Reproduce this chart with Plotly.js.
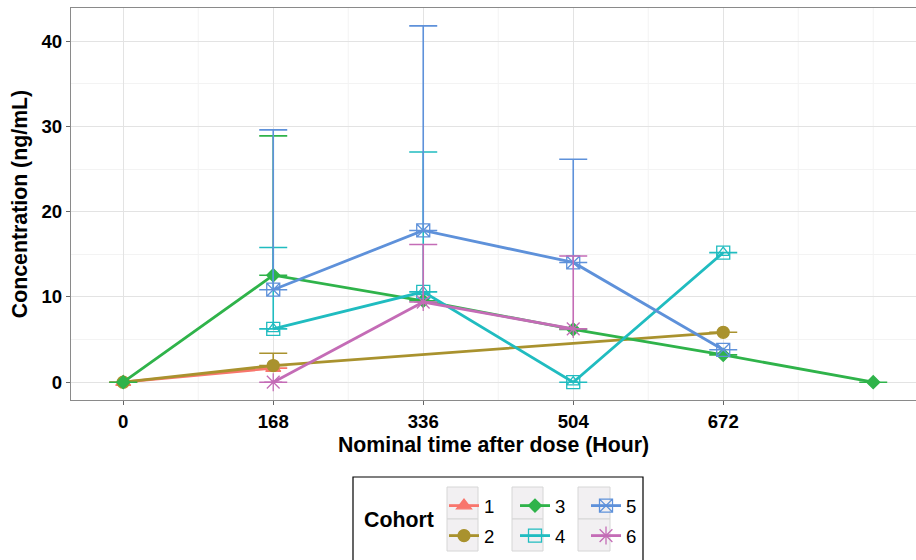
<!DOCTYPE html>
<html><head><meta charset="utf-8">
<script src="https://cdn.plot.ly/plotly-3.0.1.min.js"></script>
<style>html,body{margin:0;padding:0;overflow:hidden;background:#fff}#c{width:916px;height:560px}</style>
</head><body><div id="c"></div>
<script>
// ---- data ----
var cohorts = ["1","2","3","4","5","6"];
var x1 = [0,168],                 y1 = [0,1.65],                     sd1 = [0,0];
var x2 = [0,168,672],             y2 = [0,1.95,5.85],                sd2 = [0,1.45,0];
var x3 = [0,168,336,504,672,840], y3 = [0,12.55,9.55,6.2,3.2,0],     sd3 = [0,16.35,NaN,NaN,NaN,0];
var x4 = [168,336,504,672],       y4 = [6.25,10.6,0,15.2],           sd4 = [9.55,16.4,0,0];
var x5 = [168,336,504,672],       y5 = [10.85,17.8,14.05,3.8],       sd5 = [18.75,24.0,12.1,0];
var x6 = [168,336,504],           y6 = [0,9.4,6.25],                 sd6 = [0,6.75,8.55];
var xTicks = [0,168,336,504,672];
var xMinor = [84,252,420,588,756,840];
var yTicks = [0,10,20,30,40];

var colors = ["#F8766D","#A9922E","#2FB34A","#20BCC0","#5E91DA","#C46CB6"];
var symbols = ["triangle-up","circle","diamond","square-open","square-x-open","asterisk-open"];
var msizes = [13,12,10,13,13,15];
var legendOf = ["legend","legend2","legend","legend2","legend","legend2"];

var xs=[x1,x2,x3,x4,x5,x6], ys=[y1,y2,y3,y4,y5,y6], sds=[sd1,sd2,sd3,sd4,sd5,sd6];
var zeros = function(a){return a.map(function(){return 0;});};
var traces = [];
for (var i=0;i<6;i++){
  traces.push({
    type:"scatter", mode:"lines+markers", name:cohorts[i],
    x:xs[i], y:ys[i], legend:legendOf[i],
    line:{color:colors[i], width:2.8},
    marker:{symbol:symbols[i], size:msizes[i], color:colors[i], line:{color:colors[i], width:1.3}},
    error_y:{type:"data", symmetric:false, array:sds[i], arrayminus:zeros(sds[i]),
             color:colors[i], thickness:1.6, width:14},
    hoverinfo:"x+y+name"
  });
  if (i===3){
    traces.push({type:"scatter", mode:"markers", x:xs[i], y:ys[i], showlegend:false, legend:"legend2",
      marker:{symbol:"triangle-up-open", size:11, color:colors[i], line:{color:colors[i], width:1.3}},
      hoverinfo:"skip"});
  }
}

var W=916, H=560, ML=71, MR=0, MT=8, MB=160;
function px(X){return (X-ML)/(W-ML-MR);}
function py(Y){return (H-MB-Y)/(H-MT-MB);}
var xPerPx = 168/150;

var font = {family:"Liberation Sans, Arial, sans-serif", color:"#000"};
var shapes = [];
xMinor.forEach(function(v){
  shapes.push({type:"line", xref:"x", yref:"paper", x0:v, x1:v, y0:0, y1:1,
    line:{color:"#F3F3F3", width:1}, layer:"below"});
});
shapes.push({type:"rect", xref:"paper", yref:"paper", x0:px(353), x1:px(643), y0:py(477), y1:py(570),
   line:{color:"#000", width:1.2}, fillcolor:"rgba(0,0,0,0)", layer:"above"});
var keyCols=[[447,478],[512,543],[578,610]], keyRows=[[487,519],[519,551]];
keyCols.forEach(function(c){keyRows.forEach(function(r){
  shapes.push({type:"rect", xref:"paper", yref:"paper", x0:px(c[0]), x1:px(c[1]), y0:py(r[0]), y1:py(r[1]),
    line:{color:"#D6D6D6", width:1}, fillcolor:"#F2F0F2", layer:"above"});
});});

var legendCommon = {orientation:"h", xanchor:"left", yanchor:"middle", bgcolor:"rgba(0,0,0,0)",
  font:{family:font.family, size:18.6, color:"#000"}, entrywidth:26, entrywidthmode:"pixels",
  itemclick:false, itemdoubleclick:false};

var xStart = -58.5;
var layout = {
  width:W, height:H,
  margin:{l:ML, r:MR, t:MT, b:MB, autoexpand:false},
  paper_bgcolor:"#fff", plot_bgcolor:"#fff",
  showlegend:true,
  xaxis:{range:[xStart, xStart + (W-ML-MR)*xPerPx], tickvals:xTicks, ticktext:xTicks.map(String),
    showgrid:true, gridcolor:"#E3E3E3", gridwidth:1,
    zeroline:false, showline:true, mirror:true, linecolor:"#8A8A8A", linewidth:1.2,
    ticks:"outside", ticklen:4, tickcolor:"#666", tickwidth:1,
    tickfont:{family:font.family, size:18.6, color:"#000", weight:"bold"},
    title:{text:"Nominal time after dose (Hour)", standoff:6,
      font:{family:font.family, size:21.3, color:"#000", weight:"bold"}}},
  yaxis:{range:[-2.09,43.9], tickvals:yTicks,
    showgrid:true, gridcolor:"#E3E3E3", gridwidth:1,
    minor:{dtick:5, tick0:5, showgrid:true, gridcolor:"#F3F3F3", gridwidth:1, ticks:""},
    zeroline:false, showline:true, mirror:false, linecolor:"#8A8A8A", linewidth:1.2,
    ticks:"outside", ticklen:4, tickcolor:"#666", tickwidth:1,
    tickfont:{family:font.family, size:18.6, color:"#000", weight:"bold"},
    title:{text:"Concentration (ng/mL)", standoff:8,
      font:{family:font.family, size:21.3, color:"#000", weight:"bold"}}},
  legend: Object.assign({}, legendCommon, {x:px(444), y:py(506)}),
  legend2: Object.assign({}, legendCommon, {x:px(444), y:py(536)}),
  shapes:shapes,
  annotations:[{text:"Cohort", xref:"paper", yref:"paper", x:px(399), y:py(520),
    showarrow:false, xanchor:"center", yanchor:"middle",
    font:{family:font.family, size:21.3, color:"#000", weight:"bold"}}]
};
Plotly.newPlot("c", traces, layout, {displayModeBar:false, staticPlot:true});
</script></body></html>
